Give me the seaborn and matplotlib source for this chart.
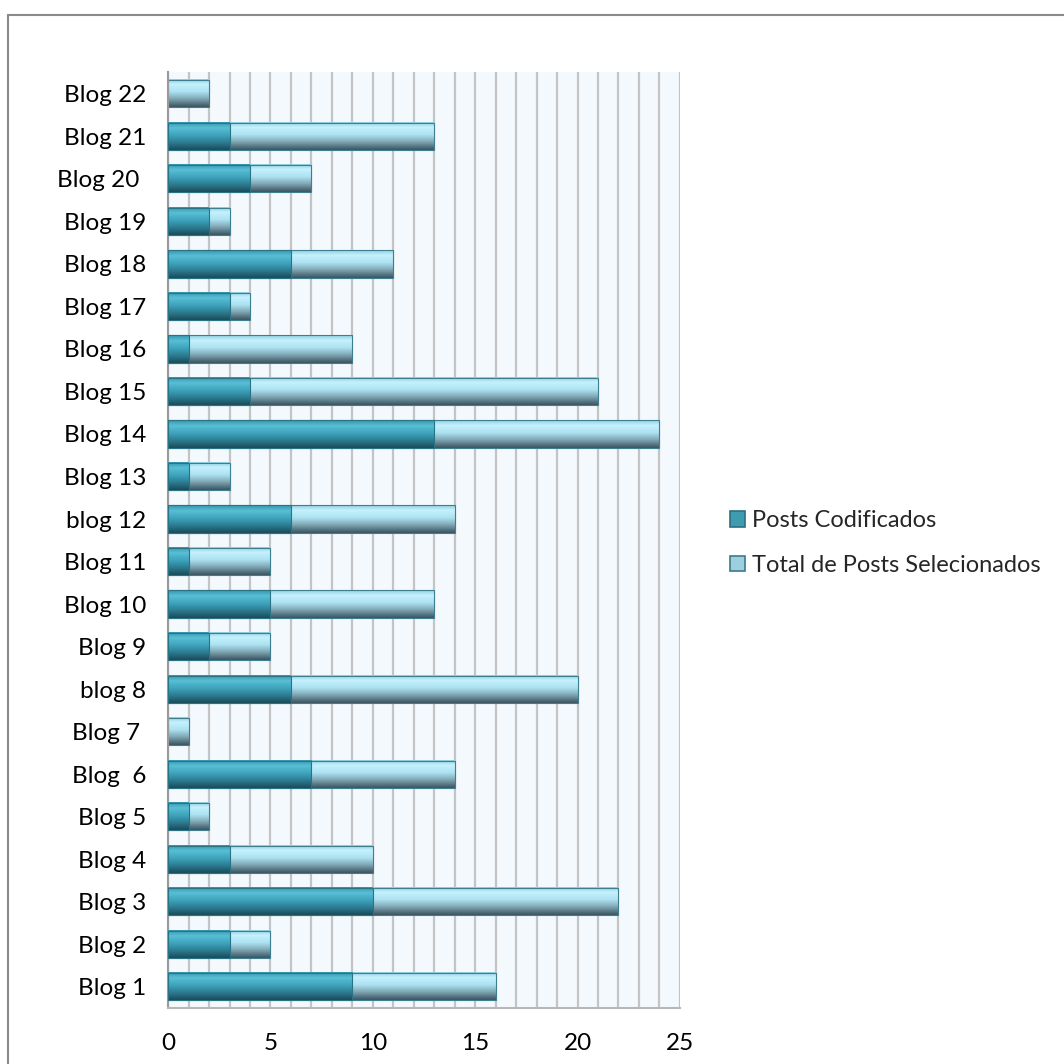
import numpy as np
import pandas as pd
import matplotlib
matplotlib.use("Agg")
import matplotlib.pyplot as plt
import seaborn as sns
from matplotlib.colors import LinearSegmentedColormap
from matplotlib.patches import Patch
from matplotlib.lines import Line2D
from matplotlib.ticker import MultipleLocator

# ---- data (top to bottom as shown) ----
blogs = ["Blog 22", "Blog 21", "Blog 20 ", "Blog 19", "Blog 18", "Blog 17",
         "Blog 16", "Blog 15", "Blog 14", "Blog 13", "blog 12", "Blog 11",
         "Blog 10", "Blog 9", "blog 8", "Blog 7 ", "Blog  6", "Blog 5",
         "Blog 4", "Blog 3", "Blog 2", "Blog 1"]
posts_codificados = [0, 3, 4, 2, 6, 3, 1, 4, 13, 1, 6, 1, 5, 2, 6, 0, 7, 1, 3, 10, 3, 9]
total_selecionados = [2, 13, 7, 3, 11, 4, 9, 21, 24, 3, 14, 5, 13, 5, 20, 1, 14, 2, 10, 22, 5, 16]
series_names = ["Posts Codificados", "Total de Posts Selecionados"]
x_ticks = [0, 5, 10, 15, 20, 25]

df = pd.DataFrame({"blog": blogs, "coded": posts_codificados, "total": total_selecionados})

sns.set_theme(style="white")
plt.rcParams["font.family"] = ["Lato", "DejaVu Sans"]

fig = plt.figure(figsize=(10.64, 10.64), dpi=100)
ax = fig.add_axes([0.158, 0.0526, 0.481, 0.880])
ax.set_facecolor("#f3f9fd")

BAR_W = 0.64
sns.barplot(data=df, y="blog", x="total", orient="h", ax=ax, width=BAR_W,
            color="#a6dcec", edgecolor="#3d7f90", linewidth=0.8, zorder=2)
n_total = len(ax.patches)
sns.barplot(data=df, y="blog", x="coded", orient="h", ax=ax, width=BAR_W,
            color="#3a9db5", edgecolor="#2a7385", linewidth=0.8, zorder=3)

light_cmap = LinearSegmentedColormap.from_list(
    "light", [(0.0, "#8fcfe0"), (0.18, "#c6f1fd"), (0.45, "#ace2f2"),
              (0.7, "#82a9b6"), (1.0, "#3b5561")])
dark_cmap = LinearSegmentedColormap.from_list(
    "dark", [(0.0, "#3696ad"), (0.2, "#58bfd6"), (0.5, "#3ba0b8"),
             (0.78, "#2a7489"), (1.0, "#1a4b58")])
grad = np.linspace(0, 1, 64).reshape(-1, 1)

for i, p in enumerate(ax.patches):
    x0, y0 = p.get_x(), p.get_y()
    w, h = p.get_width(), p.get_height()
    if w <= 0:
        p.set_visible(False)
        continue
    cmap = light_cmap if i < n_total else dark_cmap
    z = 2 if i < n_total else 3
    ax.imshow(grad, cmap=cmap, aspect="auto", origin="upper",
              extent=(x0, x0 + w, y0 + h, y0), zorder=z, interpolation="bilinear")
    p.set_facecolor("none")
    p.set_zorder(z + 0.5)

ax.set_ylim(21.5, -0.52)
ax.set_xlim(0, 25)
ax.set_xticks(x_ticks)
ax.xaxis.set_minor_locator(MultipleLocator(1))
ax.grid(True, which="both", axis="x", color="#c4c4c4", linewidth=1.6, zorder=0)
ax.set_axisbelow(True)
ax.set_xlabel("")
ax.set_ylabel("")
for s in ["top", "right"]:
    ax.spines[s].set_visible(False)
ax.spines["left"].set_color("#9a9a9a")
ax.spines["left"].set_linewidth(1.5)
ax.spines["bottom"].set_color("#b8b8b8")
ax.spines["bottom"].set_linewidth(1.5)
ax.tick_params(axis="both", which="both", length=0, labelsize=17.5, colors="black")
ax.tick_params(axis="y", pad=16)
ax.tick_params(axis="x", pad=18)

handles = [Patch(facecolor="#3e9bb0", edgecolor="#2b6f80", linewidth=1.2),
           Patch(facecolor="#9dcfdf", edgecolor="#3c7a8a", linewidth=1.2)]
fig.legend(handles, series_names, loc="center left",
           bbox_to_anchor=(0.677, 0.4897), frameon=False, fontsize=17,
           handlelength=0.65, handleheight=0.65, handletextpad=0.3,
           labelspacing=1.0, borderaxespad=0)

fig.add_artist(Line2D([8 / 1064, 1.0], [1 - 15 / 1064] * 2, transform=fig.transFigure,
                      color="#8a8a8a", linewidth=1.5))
fig.add_artist(Line2D([8 / 1064] * 2, [0, 1 - 15 / 1064], transform=fig.transFigure,
                      color="#8a8a8a", linewidth=1.5))

fig.savefig("out.png", dpi=100, facecolor="white")
